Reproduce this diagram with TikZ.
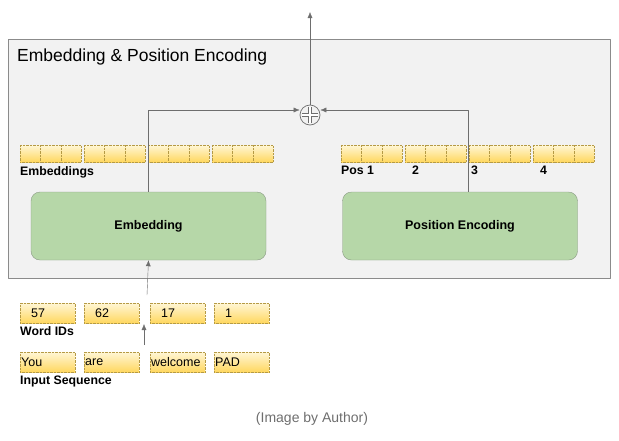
\documentclass[tikz,border=0pt]{standalone}
\usepackage{fontspec}
\setmainfont{Liberation Sans}
\usetikzlibrary{arrows.meta}
\definecolor{boxgray}{HTML}{F2F2F2}
\definecolor{linegray}{HTML}{6E6E6E}
\definecolor{embgreen}{HTML}{B6D7A8}
\definecolor{embline}{HTML}{8A9A84}
\definecolor{celltop}{HTML}{FFF6D5}
\definecolor{cellbot}{HTML}{FFD75E}
\definecolor{cellline}{HTML}{B59A45}
\tikzset{
  cell/.style={draw=cellline, densely dotted, top color=celltop, bottom color=cellbot,
    minimum width=20.3pt, minimum height=17pt, inner sep=0pt, anchor=north west},
  token/.style={cell, minimum width=55pt, minimum height=20pt, font=\fontsize{12.5}{14}\selectfont,
    text width=55pt-2*\pgfkeysvalueof{/pgf/inner xsep}, align=left},
  block/.style={draw=embline, fill=embgreen, rounded corners=9pt, minimum width=235pt,
    minimum height=68pt, font=\bfseries\fontsize{12.5}{14}\selectfont},
  tag/.style={anchor=north west, inner sep=0pt, font=\bfseries\fontsize{12.3}{14}\selectfont},
  flow/.style={draw=linegray, -{Latex[length=6pt,width=5pt]}},
}
\begin{document}
\begin{tikzpicture}[x=1pt,y=-1pt,line join=round]
\useasboundingbox (0,0) rectangle (619,440);
%==Khung ngoai
\draw[draw=linegray!80, fill=boxgray] (8,39) rectangle (610,278);
\node[anchor=north west, inner sep=0pt, font=\fontsize{17.5}{20}\selectfont] (title) at (17,49) {Embedding \& Position Encoding};
%==Hai khoi
\node[block] (emb) at (148.5,226) {Embedding};
\node[block] (pe) at (460,226) {Position Encoding};
%==Vecto
\foreach \g/\x in {0/20,1/84,2/148,3/212}
  \foreach \c in {0,1,2}
    \node[cell] (e\g\c) at (\x+\c*20.3,145) {};
\foreach \g/\x in {0/341,1/405,2/469,3/533}
  \foreach \c in {0,1,2}
    \node[cell] (p\g\c) at (\x+\c*20.3,145) {};
\node[tag] (embl) at (20,166) {Embeddings};
\foreach \n/\x/\t in {1/341/Pos 1,2/412/2,3/471/3,4/540/4}
  \node[tag] (pos\n) at (\x,166) {\t};
%==Tu va ID
\foreach \n/\x/\t in {1/20/57,2/84/62,3/150/17,4/214/1}
  \node[token, inner xsep=11pt] (id\n) at (\x,303) {\t};
\foreach \n/\x/\t in {1/20/You,2/84/are,3/150/welcome,4/214/PAD}
  \node[token, inner xsep=1pt] (w\n) at (\x,352) {\t};
\node[tag] (idl) at (20,326) {Word IDs};
\node[tag] (wl) at (20,376) {Input Sequence};
%==Cong
\node[circle, draw=linegray, line width=0.7pt, minimum size=20pt, inner sep=0pt] (add) at (310,115) {};
\draw[linegray, line width=0.7pt, double, double distance=2.5pt] ([yshift=-2.5pt]add.north)--([yshift=2.5pt]add.south) ([xshift=2.5pt]add.west)--([xshift=-2.5pt]add.east);
\coordinate (out) at (310,12);
\coordinate (idtop) at (147,295);
\coordinate (wtop) at (144,345);
\coordinate (idbot) at (144,324);
\draw[flow] (emb.north) |- ([yshift=5pt]add.west);
\draw[flow] ([xshift=8pt]pe.north) |- ([yshift=5pt]add.east);
\draw[flow] (add.north)--(out);
\draw[flow] (idtop)--(emb.south);
\draw[flow] (wtop)--(idbot);
\node[text=linegray, font=\fontsize{14}{16}\selectfont] (credit) at (312,419) {(Image by Author)};
\end{tikzpicture}
\end{document}
